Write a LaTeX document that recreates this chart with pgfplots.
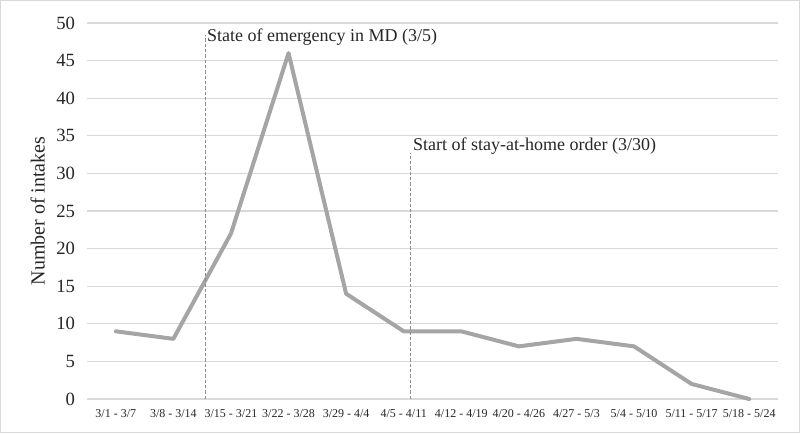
\documentclass[border=0pt]{standalone}
\usepackage{fontspec}
\setmainfont{Liberation Serif}
\usepackage{pgfplots}
\pgfplotsset{compat=1.18}
\definecolor{linegray}{RGB}{165,165,165}
\definecolor{gridgray}{RGB}{217,217,217}
\definecolor{dashgray}{RGB}{140,140,140}
\begin{document}
\begin{tikzpicture}
\begin{axis}[
  scale only axis,
  width=518.25pt, height=282pt,
  at={(0,0)}, anchor=south west,
  xmin=-0.5, xmax=11.5, ymin=0, ymax=50,
  ytick distance=5,
  xtick={0,...,11},
  xticklabels={3/1 - 3/7, 3/8 - 3/14, 3/15 - 3/21, 3/22 - 3/28, 3/29 - 4/4, 4/5 - 4/11, 4/12 - 4/19, 4/20 - 4/26, 4/27 - 5/3, 5/4 - 5/10, 5/11 - 5/17, 5/18 - 5/24},
  /pgf/number format/assume math mode=true,
  axis line style={draw=none},
  major tick length=0pt,
  ymajorgrids, grid style={gridgray, line width=0.9pt},
  yticklabel style={font=\fontsize{14}{15}\selectfont, color=black!85, xshift=-5.5pt},
  xticklabel style={font=\fontsize{9}{10}\selectfont, color=black!85, yshift=-4.5pt},
  ylabel={Number of intakes},
  ylabel style={font=\fontsize{15}{16}\selectfont, color=black!85, at={(axis description cs:0,0.5)}, anchor=center, yshift=37pt},
  clip=false,
]
\addplot[linegray, line width=3pt, line join=round, line cap=round] coordinates {
(0,9) (1,8) (2,22) (3,46) (4,14) (5,9) (6,9) (7,7) (8,8) (9,7) (10,2) (11,0)};
\addplot[dashgray, line width=0.75pt, dash pattern=on 2.5pt off 1.5pt] coordinates {(1.56,0) (1.56,48.4)};
\addplot[dashgray, line width=0.75pt, dash pattern=on 2.5pt off 1.5pt] coordinates {(5.12,0) (5.12,32.7)};
\node[anchor=base west, inner sep=0pt, font=\fontsize{13.5}{14}\selectfont, color=black!85] at (axis cs:1.58,47.5) {State of emergency in MD (3/5)};
\node[anchor=base west, inner sep=0pt, font=\fontsize{13.5}{14}\selectfont, color=black!85] at (axis cs:5.16,33.0) {Start of stay-at-home order (3/30)};
\end{axis}
\draw[gridgray, line width=0.75pt] (-64.5pt,-24.9pt) rectangle (534pt,298.6pt);
\path[use as bounding box] (-65.25pt,-25.5pt) rectangle (534.75pt,299.25pt);
\end{tikzpicture}
\end{document}
